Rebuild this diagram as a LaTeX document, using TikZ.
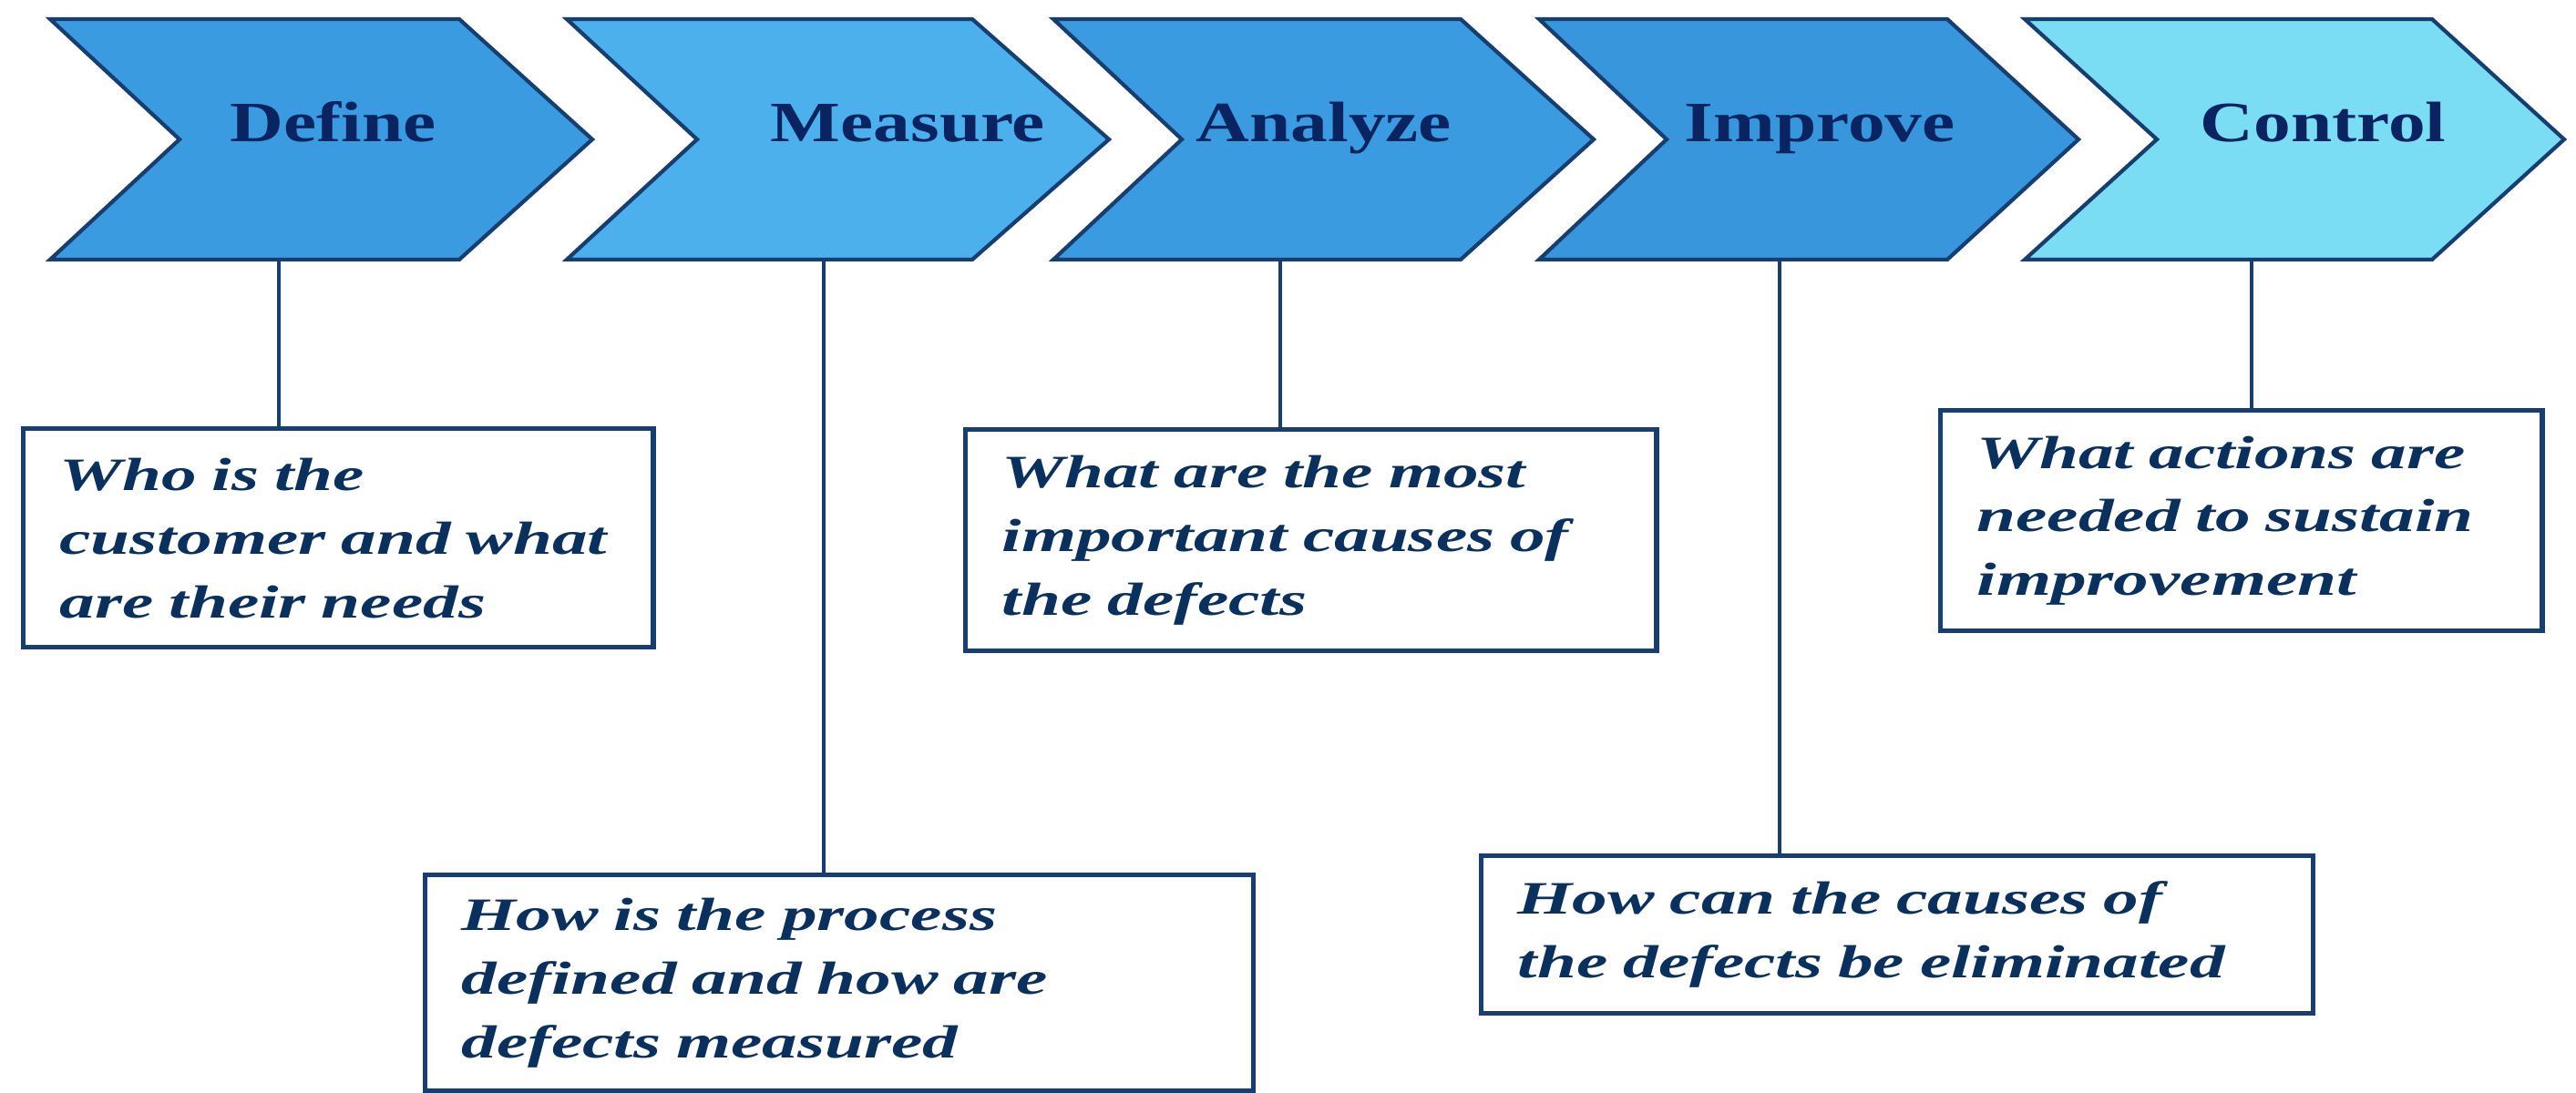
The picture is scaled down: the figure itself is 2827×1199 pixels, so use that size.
\documentclass[tikz,border=0pt]{standalone}
\usepackage{fontspec}
\setmainfont{Liberation Serif}
\newfontfamily\stagefont[FakeStretch=1.30]{Liberation Serif}
\newfontfamily\askfont[FakeStretch=1.515]{Liberation Serif}
\usepackage{xcolor}
\definecolor{cdef}{RGB}{58,155,224}
\definecolor{cmea}{RGB}{76,176,236}
\definecolor{cana}{RGB}{58,155,224}
\definecolor{cimp}{RGB}{56,150,221}
\definecolor{ccon}{RGB}{122,221,243}
\definecolor{edge}{RGB}{22,62,112}
\definecolor{ink}{RGB}{10,36,98}
\definecolor{askink}{RGB}{10,48,94}

\begin{document}
\begin{tikzpicture}[
  x=0.01cm, y=-0.01cm,
  chev/.style={draw=edge,line width=1.2pt,line join=miter},
  stage/.style={anchor=base west,inner sep=0pt,text=ink,font=\stagefont\bfseries\fontsize{17.8}{20}\selectfont},
  qbox/.style={draw=edge,line width=1.5pt,fill=white,anchor=north west,inner xsep=0.40cm,inner ysep=0pt,align=left,text=askink,font=\askfont\bfseries\itshape\fontsize{14.5}{19.9}\selectfont},
  stem/.style={draw=edge,line width=1.3pt}
]
  \useasboundingbox (0,0) rectangle (2827,1199);
  \fill[white] (0,0) rectangle (2827,1199);
  \draw[chev,fill=cdef] (55,21) -- (504,21) -- (650,153) -- (504,285) -- (55,285) -- (197,153) -- cycle;
  \draw[chev,fill=cmea] (622,21) -- (1067,21) -- (1217,153) -- (1067,285) -- (622,285) -- (765,153) -- cycle;
  \draw[chev,fill=cana] (1156,21) -- (1603,21) -- (1749,153) -- (1603,285) -- (1156,285) -- (1297,153) -- cycle;
  \draw[chev,fill=cimp] (1689,21) -- (2137,21) -- (2281,153) -- (2137,285) -- (1689,285) -- (1829,153) -- cycle;
  \draw[chev,fill=ccon] (2222,21) -- (2669,21) -- (2814,153) -- (2669,285) -- (2222,285) -- (2367,153) -- cycle;
  \node[stage] (def) at (252,155) {Define};
  \node[stage] (mea) at (845,155) {Measure};
  \node[stage] (ana) at (1312,155) {Analyze};
  \node[stage] (imp) at (1848,155) {Improve};
  \node[stage] (con) at (2414,155) {Control};
  \coordinate (sdef) at (306,285);
  \coordinate (smea) at (904,285);
  \coordinate (sana) at (1405,285);
  \coordinate (simp) at (1953,285);
  \coordinate (scon) at (2471,285);
  \node[qbox,minimum width=6.91cm,minimum height=2.40cm,text width=6.11cm] (qdef) at (23,468)
    {Who is the\\customer and what\\are their needs};
  \node[qbox,minimum width=9.08cm,minimum height=2.37cm,text width=8.28cm] (qmea) at (464,958)
    {How is the process\\defined and how are\\defects measured};
  \node[qbox,minimum width=7.58cm,minimum height=2.43cm,text width=6.78cm] (qana) at (1057,469)
    {What are the most\\important causes of\\the defects};
  \node[qbox,minimum width=9.12cm,minimum height=1.73cm,text width=8.32cm] (qimp) at (1623,937)
    {How can the causes of\\the defects be eliminated};
  \node[qbox,minimum width=6.60cm,minimum height=2.42cm,text width=5.80cm] (qcon) at (2127,448)
    {What actions are\\needed to sustain\\improvement};
  \draw[stem] (sdef) -- (sdef |- qdef.north);
  \draw[stem] (smea) -- (smea |- qmea.north);
  \draw[stem] (sana) -- (sana |- qana.north);
  \draw[stem] (simp) -- (simp |- qimp.north);
  \draw[stem] (scon) -- (scon |- qcon.north);
\end{tikzpicture}
\end{document}
